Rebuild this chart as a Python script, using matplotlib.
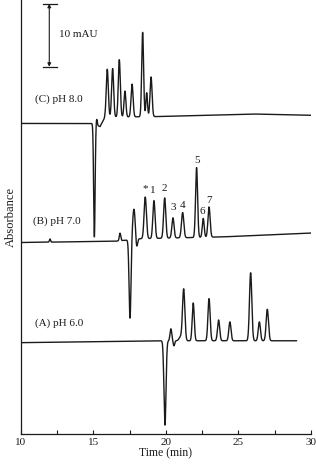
import numpy as np
import matplotlib
matplotlib.use('Agg')
import matplotlib.pyplot as plt

plt.rcParams['font.family'] = ['Liberation Serif', 'DejaVu Serif']

# peak tables (time in min, height in mAU above baseline, sigma in min)
# (C) pH 8.0
c_times = [15.06, 15.22, 15.95, 16.32, 16.78, 17.17, 17.66, 18.39, 18.67, 18.97]
c_heights = [-17.9, 1.0, 7.6, 7.7, 9.1, 4.1, 5.2, 13.4, 3.8, 6.3]
c_sigmas = [0.05, 0.04, 0.07, 0.07, 0.07, 0.065, 0.07, 0.065, 0.055, 0.07]
c_base_t = [10.0, 14.95, 15.45, 15.8, 19.5, 26.0, 30.0]
c_base_y = [49.3, 49.3, 48.8, 50.3, 50.4, 50.8, 50.6]

# (B) pH 7.0
b_times = [12.0, 16.83, 17.52, 17.79, 17.97, 18.57, 19.17, 19.91, 20.48, 21.15, 22.11, 22.57, 22.97]
b_heights = [0.5, 1.2, -12.5, 4.8, -1.6, 6.6, 6.0, 6.4, 3.2, 4.0, 11.1, 3.0, 4.8]
b_sigmas = [0.04, 0.05, 0.065, 0.09, 0.06, 0.08, 0.075, 0.075, 0.075, 0.08, 0.07, 0.065, 0.075]
b_base_t = [10.0, 16.5, 18.2, 24.0, 30.0]
b_base_y = [30.4, 30.6, 31.0, 31.3, 31.9]

# (A) pH 6.0
a_times = [19.93, 20.34, 20.55, 21.0, 21.22, 21.88, 22.97, 23.63, 24.41, 25.84, 26.44, 26.99]
a_heights = [-13.4, 1.9, -0.8, 0.6, 8.2, 6.0, 6.7, 3.3, 3.0, 10.8, 3.0, 5.0]
a_sigmas = [0.07, 0.06, 0.05, 0.1, 0.08, 0.07, 0.075, 0.075, 0.075, 0.08, 0.075, 0.08]
a_base_t = [10.0, 19.5, 29.0]
a_base_y = [14.5, 14.8, 14.8]
a_end = 29.0

peak_labels = ['*', '1', '2', '3', '4', '5', '6', '7']
label_t = [18.57, 19.1, 19.86, 20.48, 21.15, 22.12, 22.53, 22.94]
label_y = [38.9, 38.6, 39.0, 35.9, 36.3, 43.4, 35.3, 37.1]


def trace(t, times, heights, sigmas, base_t, base_y):
    y = np.interp(t, base_t, base_y)
    for t0, h, s in zip(times, heights, sigmas):
        y = y + h * np.exp(-0.5 * ((t - t0) / s) ** 2)
    return y


fig = plt.figure(figsize=(3.16, 4.66), dpi=100)
ax = fig.add_axes([0.0665, 0.0687, 0.9175, 0.9313])

t = np.linspace(10, 30, 4000)
ta = t[t <= a_end]
col = '#1a1a1a'
ax.plot(t, trace(t, c_times, c_heights, c_sigmas, c_base_t, c_base_y), color=col, lw=1.0)
ax.plot(t, trace(t, b_times, b_heights, b_sigmas, b_base_t, b_base_y), color=col, lw=1.0)
ax.plot(ta, trace(ta, a_times, a_heights, a_sigmas, a_base_t, a_base_y), color=col, lw=1.0)

fs = 8
ax.text(10.97, 53.1, '(C) pH 8.0', fontsize=fs, ha='left', va='center', color=col)
ax.text(10.85, 33.8, '(B) pH 7.0', fontsize=fs, ha='left', va='center', color=col)
ax.text(10.97, 17.6, '(A) pH 6.0', fontsize=fs, ha='left', va='center', color=col)
for lab, lx, ly in zip(peak_labels, label_t, label_y):
    ax.text(lx, ly, lab, fontsize=fs, ha='center', va='center', color=col)

# 10 mAU scale bar
bar_t, bar_lo, bar_hi = 11.95, 58.3, 68.3
ax.annotate('', xy=(bar_t, bar_hi), xytext=(bar_t, bar_lo),
            arrowprops=dict(arrowstyle='<|-|>', color=col, lw=0.8,
                            mutation_scale=5, shrinkA=0, shrinkB=0))
ax.plot([11.5, 12.46], [bar_hi, bar_hi], color=col, lw=0.9)
ax.plot([11.5, 12.46], [bar_lo, bar_lo], color=col, lw=0.9)
ax.text(12.64, 63.4, '10 mAU', fontsize=fs, ha='left', va='center', color=col)

ax.set_xlim(10, 30)
ax.set_ylim(0, 68.9)
ax.set_xticks([10, 15, 20, 25, 30])
ax.set_xticks(np.arange(10, 30.1, 2.5), minor=True)
ax.tick_params(axis='x', which='both', direction='in', length=3, width=0.8,
               labelsize=fs, pad=3, colors=col)
ax.set_yticks([])
for side in ['top', 'right']:
    ax.spines[side].set_visible(False)
for side in ['left', 'bottom']:
    ax.spines[side].set_linewidth(0.9)
    ax.spines[side].set_color(col)
ax.set_xlabel('Time (min)', fontsize=8.5, labelpad=0, color=col)
ax.set_ylabel('Absorbance', fontsize=9, labelpad=3, color=col)

fig.savefig('out.png', dpi=100)
